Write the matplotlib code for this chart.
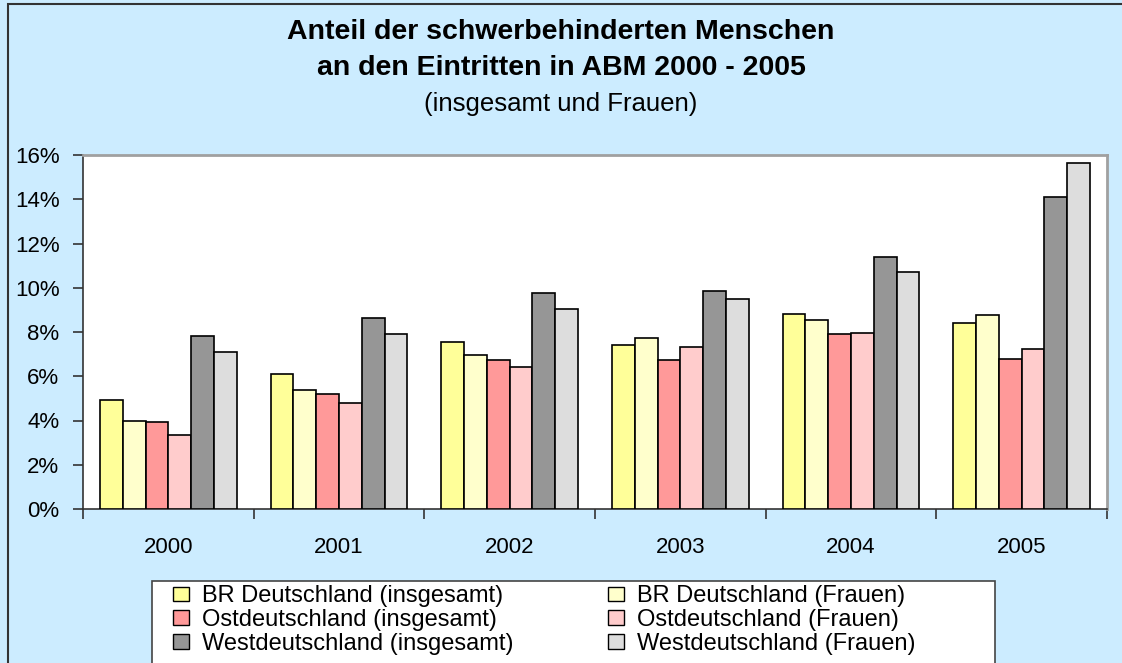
import matplotlib
matplotlib.use('Agg')
import matplotlib.pyplot as plt
from matplotlib.patches import Patch, Rectangle
import numpy as np

plt.rcParams['font.family'] = ['Liberation Sans', 'DejaVu Sans']

# Data
years = ['2000', '2001', '2002', '2003', '2004', '2005']
series_names = [
    'BR Deutschland (insgesamt)',
    'BR Deutschland (Frauen)',
    'Ostdeutschland (insgesamt)',
    'Ostdeutschland (Frauen)',
    'Westdeutschland (insgesamt)',
    'Westdeutschland (Frauen)',
]
br_insg = [4.93, 6.08, 7.53, 7.39, 8.82, 8.40]
br_frauen = [3.98, 5.36, 6.95, 7.74, 8.54, 8.76]
ost_insg = [3.91, 5.20, 6.73, 6.73, 7.90, 6.80]
ost_frauen = [3.33, 4.78, 6.44, 7.32, 7.96, 7.24]
west_insg = [7.83, 8.62, 9.77, 9.85, 11.38, 14.12]
west_frauen = [7.10, 7.90, 9.05, 9.49, 10.72, 15.64]
values = [br_insg, br_frauen, ost_insg, ost_frauen, west_insg, west_frauen]

colors = ['#FFFF99', '#FFFFCC', '#FF9999', '#FFCCCC', '#969696', '#DDDDDD']
bg = '#CCECFF'

W, H = 1122, 663
fig = plt.figure(figsize=(W / 100, H / 100), dpi=100, facecolor=bg)

# outer frame of the chart area
fig.patches.append(Rectangle((8 / W, -0.01), 1.1, 1 - 4 / H + 0.01,
                             transform=fig.transFigure, fill=False,
                             edgecolor='#333333', linewidth=1.5, zorder=0))

ax = fig.add_axes([83 / W, 1 - 509 / H, (1107 - 83) / W, (509 - 155) / H])
ax.set_facecolor('white')

x = np.arange(len(years))
w = 1 / 7.5
for i, (vals, col) in enumerate(zip(values, colors)):
    ax.bar(x + (i - 2.5) * w, vals, width=w, color=col,
           edgecolor='black', linewidth=1.2, zorder=3)

ax.set_xlim(-0.5, len(years) - 0.5)
ax.set_ylim(0, 16)
ax.set_yticks(range(0, 17, 2))
ax.set_yticklabels([f'{v}%' for v in range(0, 17, 2)], fontsize=16)

# category labels centred, ticks between categories
ax.set_xticks(x)
ax.set_xticklabels(years, fontsize=16)
ax.tick_params(axis='x', length=0, pad=20)
ax.set_xticks(np.arange(-0.5, len(years)), minor=True)
ax.tick_params(axis='x', which='minor', length=7, width=1.2, color='#333333')
ax.tick_params(axis='y', length=7, width=1.2, color='#333333', pad=10)

for s in ['left', 'bottom']:
    ax.spines[s].set_color('#333333')
    ax.spines[s].set_linewidth(1.2)
for s in ['top', 'right']:
    ax.spines[s].set_color('#A0A0A0')
    ax.spines[s].set_linewidth(2)

# Titles
fig.text(0.5, 1 - 39 / H, 'Anteil der schwerbehinderten Menschen',
         ha='center', va='baseline', fontsize=20.5, fontweight='bold')
fig.text(0.5, 1 - 75 / H, 'an den Eintritten in ABM 2000 - 2005',
         ha='center', va='baseline', fontsize=20.5, fontweight='bold')
fig.text(0.5, 1 - 111 / H, '(insgesamt und Frauen)',
         ha='center', va='baseline', fontsize=18.5)

# Legend box
fig.patches.append(Rectangle((152 / W, -0.01), (995 - 152) / W,
                             (663 - 581) / H + 0.01,
                             transform=fig.transFigure, facecolor='white',
                             edgecolor='#444444', linewidth=1.2, zorder=1))

handles = [Patch(facecolor=c, edgecolor='black', linewidth=1) for c in colors]
order = [0, 2, 4, 1, 3, 5]
leg = fig.legend([handles[i] for i in order], [series_names[i] for i in order],
                 loc='upper left', bbox_to_anchor=(173 / W, 1 - 585 / H),
                 ncol=2, fontsize=17, frameon=False,
                 handlelength=0.68, handleheight=0.55, handletextpad=0.55,
                 columnspacing=4.0, labelspacing=0.08, borderpad=0,
                 borderaxespad=0)
leg.set_zorder(2)

fig.savefig('out.png', dpi=100, facecolor=bg)
